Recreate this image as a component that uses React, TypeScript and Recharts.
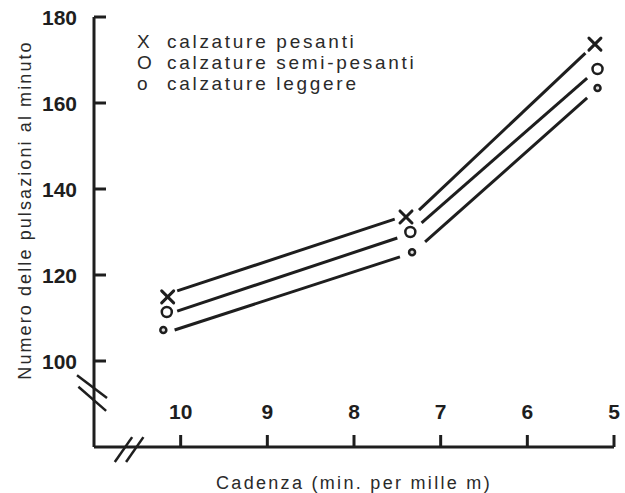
import {
  ComposedChart,
  Line,
  Scatter,
  XAxis,
  YAxis,
  Legend,
  Label,
  ReferenceLine,
} from "recharts";

// cadenza (min per 1000 m) of each measured point
const cadenceHeavy = [10.15, 7.4, 5.22];
const cadenceSemi = [10.16, 7.35, 5.19];
const cadenceLight = [10.2, 7.33, 5.19];

// pulse rate per minute
const pulseHeavy = [114.9, 133.5, 173.7];
const pulseSemi = [111.4, 130, 167.9];
const pulseLight = [107.2, 125.3, 163.5];

// hand drawn trend lines, two pieces per series: [x, y] end points
const trendHeavy = [
  [[10.04, 116.3], [7.53, 133.0]],
  [[7.25, 135.1], [5.33, 171.6]],
];
const trendSemi = [
  [[10.04, 111.6], [7.5, 128.6]],
  [[7.22, 132.1], [5.31, 165.8]],
];
const trendLight = [
  [[10.07, 107.2], [7.47, 124.2]],
  [[7.18, 127.7], [5.31, 161.2]],
];

const xTicks = [10, 9, 8, 7, 6, 5];
const yTicks = [100, 120, 140, 160, 180];

const legendItems = [
  { mark: "X", label: "calzature pesanti" },
  { mark: "O", label: "calzature semi-pesanti" },
  { mark: "o", label: "calzature leggere" },
];

// axis break marks ("//")
const yBreak = [
  [[11.196, 96.7], [10.85, 91.4]],
  [[11.18, 94.0], [10.86, 88.4]],
];
const xBreak = [
  [[10.76, 76.5], [10.56, 82.3]],
  [[10.63, 76.5], [10.43, 82.3]],
];

const ink = "#1e1e1e";
const font = "'Liberation Sans', Arial, sans-serif";

const toPoints = (xs: number[], ys: number[]) => xs.map((x, i) => ({ x, y: ys[i] }));
const toSeg = (seg: number[][]) => seg.map(([x, y]) => ({ x, y }));

const YTick = (props: any) => {
  const { x, y, payload } = props;
  return (
    <g>
      <line x1={x} x2={x + 12} y1={y} y2={y} stroke={ink} strokeWidth={3} />
      <text x={x - 17} y={y + 8} textAnchor="end" fontFamily={font} fontWeight={700} fontSize={21} fill={ink}>
        {payload.value}
      </text>
    </g>
  );
};

const XTick = (props: any) => {
  const { x, y, payload } = props;
  return (
    <g>
      <line x1={x} x2={x} y1={y} y2={y - 12} stroke={ink} strokeWidth={3} />
      <text x={x} y={y - 28} textAnchor="middle" fontFamily={font} fontWeight={700} fontSize={21} fill={ink}>
        {payload.value}
      </text>
    </g>
  );
};

const Cross = (p: any) => (
  <g stroke={ink} strokeWidth={3} strokeLinecap="round">
    <line x1={p.cx - 6} y1={p.cy - 6} x2={p.cx + 6} y2={p.cy + 6} />
    <line x1={p.cx - 6} y1={p.cy + 6} x2={p.cx + 6} y2={p.cy - 6} />
  </g>
);
const BigO = (p: any) => <circle cx={p.cx} cy={p.cy} r={5} fill="#fff" stroke={ink} strokeWidth={2.5} />;
const SmallO = (p: any) => <circle cx={p.cx} cy={p.cy} r={3} fill="#ddd" stroke={ink} strokeWidth={2.5} />;

const YLabel = () => {
  const cx = 25;
  const cy = 210;
  return (
    <text
      x={cx}
      y={cy}
      transform={`rotate(-90 ${cx} ${cy})`}
      textAnchor="middle"
      dominantBaseline="central"
      fontFamily={font}
      fontSize={18}
      letterSpacing={2.1}
      fill="#2a2a2a"
    >
      Numero delle pulsazioni al minuto
    </text>
  );
};

const LegendBox = () => (
  <div style={{ fontFamily: font, fontSize: 19, lineHeight: "21px", letterSpacing: 2.7, color: "#2a2a2a", whiteSpace: "nowrap" }}>
    {legendItems.map((it) => (
      <div key={it.label}>
        <span style={{ display: "inline-block", width: 30 }}>{it.mark}</span>
        {it.label}
      </div>
    ))}
  </div>
);

export default function App() {
  const series = [
    { pts: toPoints(cadenceHeavy, pulseHeavy), trend: trendHeavy, shape: Cross, name: "pesanti" },
    { pts: toPoints(cadenceSemi, pulseSemi), trend: trendSemi, shape: BigO, name: "semi" },
    { pts: toPoints(cadenceLight, pulseLight), trend: trendLight, shape: SmallO, name: "leggere" },
  ];
  return (
    <div style={{ position: "absolute", left: 0, top: 0, width: 625, height: 493, background: "#fff" }}>
      <ComposedChart width={625} height={493} margin={{ top: 17, right: 11, bottom: 45, left: 93 }}>
        <XAxis
          dataKey="x"
          type="number"
          domain={[5, 11]}
          reversed
          allowDataOverflow
          ticks={xTicks}
          height={1}
          tickSize={0}
          tickMargin={0}
          tick={<XTick />}
          axisLine={{ stroke: ink, strokeWidth: 3 }}
          tickLine={false}
        >
          <Label
            value="Cadenza (min. per mille m)"
            position="bottom"
            offset={28}
            style={{ fontFamily: font, fontSize: 18, letterSpacing: 2.3, fill: "#2a2a2a" }}
          />
        </XAxis>
        <YAxis
          dataKey="y"
          type="number"
          domain={[80, 180]}
          allowDataOverflow
          ticks={yTicks}
          width={1}
          tickSize={0}
          tickMargin={0}
          tick={<YTick />}
          axisLine={{ stroke: ink, strokeWidth: 3 }}
          tickLine={false}
        >
          <Label content={<YLabel />} />
        </YAxis>
        <Legend layout="horizontal" verticalAlign="middle" align="center" wrapperStyle={{ top: 31, left: 137, width: "auto" }} content={<LegendBox />} />
        {series.map((s) =>
          s.trend.map((seg, i) => (
            <Line
              key={s.name + i}
              data={toSeg(seg)}
              dataKey="y"
              type="linear"
              stroke={ink}
              strokeWidth={3}
              dot={false}
              activeDot={false}
              legendType="none"
              isAnimationActive={false}
            />
          ))
        )}
        {series.map((s) => (
          <Scatter key={s.name} data={s.pts} shape={s.shape} legendType="none" isAnimationActive={false} />
        ))}
        {[...yBreak, ...xBreak].map((seg, i) => (
          <ReferenceLine key={i} segment={toSeg(seg)} ifOverflow="visible" stroke={ink} strokeWidth={2.5} />
        ))}
      </ComposedChart>
    </div>
  );
}
